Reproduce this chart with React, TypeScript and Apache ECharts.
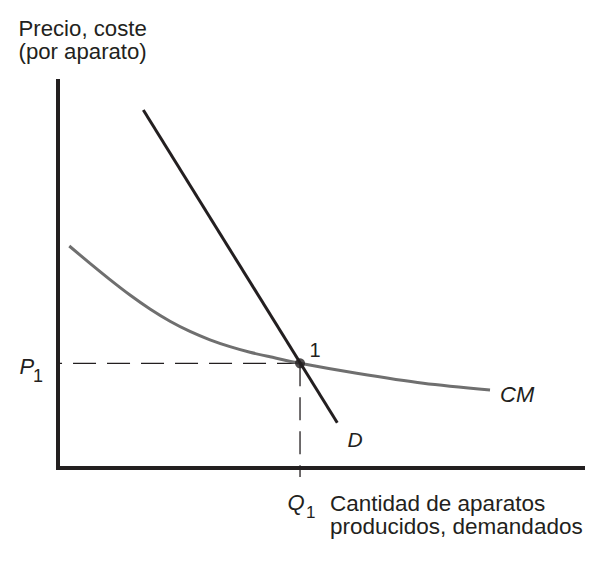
import React, { useEffect, useRef } from "react";
import * as echarts from "echarts";

// Demand curve D (quantity, price) in abstract units (axes 0..10)
const demandQ = [1.625, 5.32];
const demandP = [9.25, 1.17];

// Average cost curve CM
const cmQ = [0.215, 0.61, 0.99, 1.371, 1.752, 2.133, 2.514, 2.895, 3.276, 3.657, 4.038, 4.61, 5.69, 6.958, 8.229];
const cmP = [5.736, 5.287, 4.868, 4.47, 4.109, 3.793, 3.53, 3.313, 3.137, 2.992, 2.873, 2.705, 2.447, 2.189, 2.016];

// Equilibrium point 1 (Q1, P1)
const equilibriumQ = 4.61;
const equilibriumP = 2.705;

// Guide line ends (slightly beyond the axes)
const guideLeftQ = -0.17;
const guideBottomP = -0.23;

// Texts
const yAxisTitle = "Precio, coste\n(por aparato)";
const xAxisTitle = "Cantidad de aparatos\nproducidos, demandados";
const pointLabel = "1";
const demandLabel = "D";
const costLabel = "CM";
const priceLabel = "P";
const quantityLabel = "Q";
const subscript = "1";

const INK = "#231f20";
const GRAY = "#6f6f6f";
const FONT = "'Liberation Sans', Arial, Helvetica, sans-serif";

export default function App() {
  const ref = useRef<HTMLDivElement>(null);

  useEffect(() => {
    if (!ref.current) return;
    const chart = echarts.init(ref.current, undefined, { renderer: "svg" });

    const axisCommon = {
      type: "value" as const,
      min: 0,
      max: 10,
      axisLine: { show: true, onZero: true, lineStyle: { color: INK, width: 4, cap: "square" } },
      axisTick: { show: false },
      axisLabel: { show: false },
      splitLine: { show: false },
    };

    const txt = (
      text: string,
      x: number,
      y: number,
      fontSize: number,
      opts: any = {}
    ) => ({
      type: "text",
      x,
      y,
      silent: true,
      style: {
        text,
        fill: INK,
        font: `${opts.italic ? "italic " : ""}${fontSize}px ${FONT}`,
        fontSize,
        fontFamily: FONT,
        fontStyle: opts.italic ? "italic" : "normal",
        verticalAlign: opts.verticalAlign || "middle",
        align: "left",
        lineHeight: opts.lineHeight,
      },
    });

    chart.setOption({
      animation: false,
      grid: { left: 58, right: 17, top: 81, bottom: 93 },
      xAxis: axisCommon,
      yAxis: axisCommon,
      graphic: [
        txt(yAxisTitle, 18.5, 17.4, 22.2, { verticalAlign: "top", lineHeight: 23 }),
        txt(xAxisTitle, 330, 491.5, 22.5, { verticalAlign: "top", lineHeight: 23 }),
        txt(priceLabel, 19.5, 366.7, 22, { italic: true }),
        txt(subscript, 33, 376.1, 18),
        txt(quantityLabel, 287.5, 502.9, 22, { italic: true }),
        txt(subscript, 306, 512.4, 17),
        txt(pointLabel, 309.5, 349.8, 20),
        txt(demandLabel, 347.5, 439.4, 21, { italic: true }),
        txt(costLabel, 500, 394.1, 22, { italic: true }),
      ],
      series: [
        {
          type: "line",
          data: [
            [equilibriumQ, equilibriumP],
            [guideLeftQ, equilibriumP],
          ],
          symbol: "none",
          clip: false,
          lineStyle: { color: INK, width: 1.3, type: [23, 11] },
          z: 3,
        },
        {
          type: "line",
          data: [
            [equilibriumQ, equilibriumP],
            [equilibriumQ, guideBottomP],
          ],
          symbol: "none",
          clip: false,
          lineStyle: { color: INK, width: 1.3, type: [23, 11] },
          z: 3,
        },
        {
          type: "line",
          data: cmQ.map((q, i) => [q, cmP[i]]),
          symbol: "none",
          smooth: 0.3,
          lineStyle: { color: GRAY, width: 3 },
          z: 4,
        },
        {
          type: "line",
          data: demandQ.map((q, i) => [q, demandP[i]]),
          symbol: "none",
          lineStyle: { color: INK, width: 3 },
          z: 5,
        },
        {
          type: "scatter",
          data: [[equilibriumQ, equilibriumP]],
          symbol: "circle",
          symbolSize: 10,
          itemStyle: { color: INK },
          z: 6,
        },
      ],
    });

    return () => chart.dispose();
  }, []);

  return (
    <div
      ref={ref}
      style={{ position: "fixed", left: 0, top: 0, width: 600, height: 561, background: "#fff" }}
    />
  );
}
